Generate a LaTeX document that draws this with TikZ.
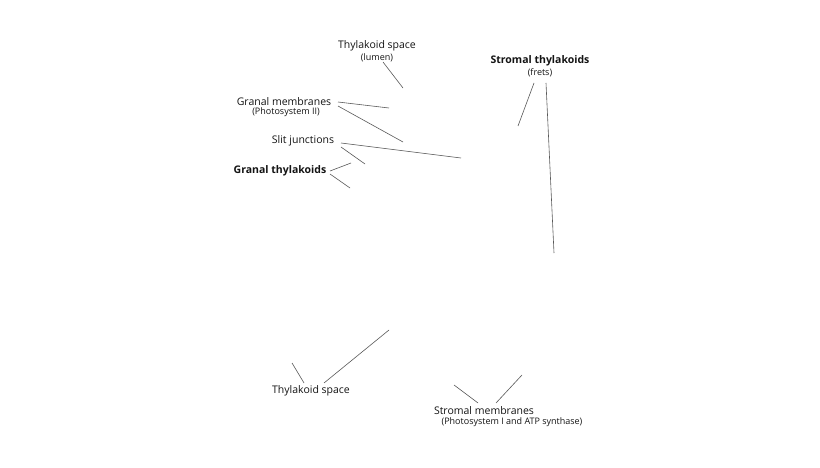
\documentclass[tikz,border=0pt]{standalone}
\usepackage{fontspec}
\setmainfont{Open Sans}
\begin{document}
\begin{tikzpicture}[x=1pt,y=-1pt,
  lbl/.style={inner sep=0pt,font=\fontsize{10.5}{12}\selectfont,text=black!92},
  sub/.style={inner sep=0pt,font=\fontsize{9}{10}\selectfont,text=black!92},
  ln/.style={draw=black!65,line width=0.6pt}]
\useasboundingbox[fill=white] (0,0) rectangle (820,468);
\node[lbl] (ts) at (377,46) {Thylakoid space};
\node[sub] (tsl) at (377,58) {(lumen)};
\coordinate (a1) at (383,62); \coordinate (a2) at (403,88);
\draw[ln] (a1)--(a2);
\node[lbl] (gm) at (284,102) {Granal membranes};
\node[sub] (gms) at (286,112) {(Photosystem II)};
\coordinate (b0) at (338,102); \coordinate (b1) at (389,108);
\coordinate (b2) at (338,106); \coordinate (b3) at (403,142);
\draw[ln] (b0)--(b1); \draw[ln] (b2)--(b3);
\node[lbl] (sj) at (303,141) {Slit junctions};
\coordinate (c0) at (341,143); \coordinate (c1) at (461,158);
\coordinate (c2) at (341,147); \coordinate (c3) at (365,164);
\draw[ln] (c0)--(c1); \draw[ln] (c2)--(c3);
\node[lbl,font=\fontsize{10.5}{12}\selectfont\bfseries] (gt) at (280,171) {Granal thylakoids};
\coordinate (d0) at (330,171); \coordinate (d1) at (351,163);
\coordinate (d2) at (330,174); \coordinate (d3) at (350,188);
\draw[ln] (d0)--(d1); \draw[ln] (d2)--(d3);
\node[lbl,font=\fontsize{10.5}{12}\selectfont\bfseries] (st) at (540,61) {Stromal thylakoids};
\node[sub] (stf) at (540,73) {(frets)};
\coordinate (e0) at (534,83); \coordinate (e1) at (518,126);
\coordinate (e2) at (546,83); \coordinate (e3) at (554,253);
\draw[ln] (e0)--(e1); \draw[ln] (e2)--(e3);
\node[lbl,text=white] (gr) at (411,251) {Granum};
\node[lbl,text=white] (la) at (542,321) {Lamellae};
\node[lbl] (ts2) at (311,391) {Thylakoid space};
\coordinate (f0) at (304,383); \coordinate (f1) at (292,363);
\coordinate (f2) at (324,383); \coordinate (f3) at (389,330);
\draw[ln] (f0)--(f1); \draw[ln] (f2)--(f3);
\node[lbl] (sm) at (484,411) {Stromal membranes};
\node[sub] (sms) at (512,422) {(Photosystem I and ATP synthase)};
\coordinate (g0) at (478,403); \coordinate (g1) at (454,385);
\coordinate (g2) at (496,403); \coordinate (g3) at (522,375);
\draw[ln] (g0)--(g1); \draw[ln] (g2)--(g3);
\end{tikzpicture}
\end{document}
